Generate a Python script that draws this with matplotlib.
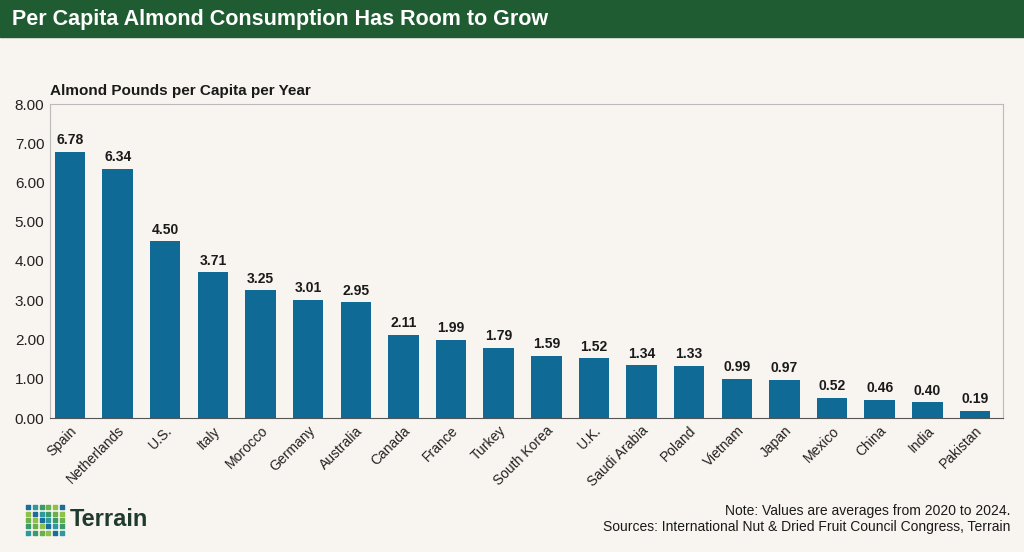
import matplotlib
matplotlib.use("Agg")
import matplotlib.pyplot as plt
from matplotlib.patches import Rectangle

countries = ["Spain","Netherlands","U.S.","Italy","Morocco","Germany","Australia","Canada","France","Turkey",
             "South Korea","U.K.","Saudi Arabia","Poland","Vietnam","Japan","Mexico","China","India","Pakistan"]
values = [6.78,6.34,4.50,3.71,3.25,3.01,2.95,2.11,1.99,1.79,1.59,1.52,1.34,1.33,0.99,0.97,0.52,0.46,0.40,0.19]
yticks = [0,1,2,3,4,5,6,7,8]

bg = "#f8f4ef"
green = "#1f5c32"
bar_c = "#0f6a95"
plt.rcParams['font.family'] = ['Liberation Sans', 'DejaVu Sans']

fig = plt.figure(figsize=(10.24, 5.52), dpi=100, facecolor=bg)
fig.patches.append(Rectangle((0, 1-37/552), 1, 37/552, transform=fig.transFigure, color=green, zorder=0))
fig.text(12/1024, 1-19/552, "Per Capita Almond Consumption Has Room to Grow", color="white",
         fontsize=15.5, fontweight="bold", va="center")

ax = fig.add_axes([50/1024, 1-418/552, 953/1024, 314/552], facecolor=bg)
x = range(len(countries))
ax.bar(x, values, width=0.64, color=bar_c, zorder=2)
for i, v in enumerate(values):
    ax.text(i, v + 0.12, f"{v:.2f}", ha="center", va="bottom", fontsize=10, fontweight="bold", color="#1a1a1a")
ax.set_xlim(-0.42, 19.59)
ax.set_ylim(0, 8)
ax.set_yticks(yticks)
ax.set_yticklabels([f"{t:.2f}" for t in yticks], fontsize=11)
ax.set_xticks(list(x))
ax.set_xticklabels(countries, rotation=45, ha="right", rotation_mode="anchor", fontsize=10)
ax.tick_params(axis="both", length=0, pad=4, colors="#222222")
for s in ax.spines.values():
    s.set_color("#bbbbbb"); s.set_linewidth(0.8)
ax.spines["bottom"].set_color("#555555")
fig.text(50/1024, 1-91/552, "Almond Pounds per Capita per Year", fontsize=11, fontweight="bold", va="center", color="#1a1a1a")

fig.text(1010/1024, 1-511/552, "Note: Values are averages from 2020 to 2024.", ha="right", va="center", fontsize=10, color="#1a1a1a")
fig.text(1010/1024, 1-527/552, "Sources: International Nut & Dried Fruit Council Congress, Terrain", ha="right", va="center", fontsize=10, color="#1a1a1a")

# logo
lax = fig.add_axes([25/1024, 1-536/552, 40/1024, 32/552])
lax.axis("off")
cols = ["#2e9a9e", "#3a9a6a", "#6ab04c", "#8fc04a", "#1c6e9a"]
for i in range(6):
    for j in range(5):
        lax.scatter(i, j, s=5, color=cols[(i+j) % 5], marker="s")
lax.set_xlim(-0.5, 5.5); lax.set_ylim(-0.5, 4.5)
fig.text(70/1024, 1-520/552, "Terrain", fontsize=17, fontweight="bold", va="center", color="#1f3b2e")

fig.savefig("out.png", dpi=100, facecolor=bg)
